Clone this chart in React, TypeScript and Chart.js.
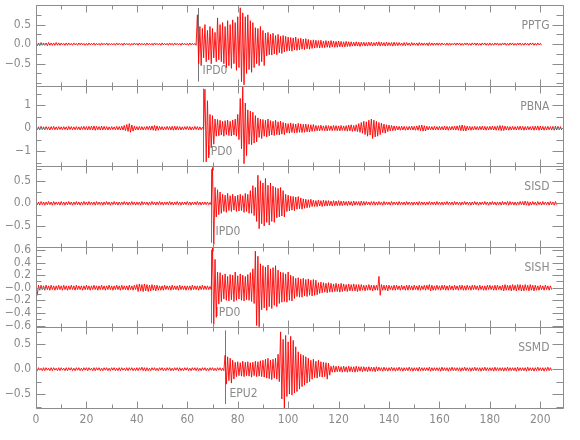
import { useEffect, useRef } from 'react';
import { Chart, registerables } from 'chart.js';

Chart.register(...registerables);

// ---------- data ----------
const STATIONS = ['PPTG', 'PBNA', 'SISD', 'SISH', 'SSMD'];
const PICK_LABELS = ['IPD0', 'IPD0', 'IPD0', 'IPD0', 'EPU2'];
const PICK_TIMES = [64.2, 66.3, 69.6, 69.6, 74.8];

const Y_MIN = [-1.06, -1.66, -0.96, -0.63, -0.78];
const Y_MAX = [1.0, 1.86, 0.82, 0.65, 0.84];
const Y_TICKS = [
  [-0.5, 0, 0.5],
  [-1, 0, 1],
  [-0.5, 0, 0.5],
  [-0.6, -0.4, -0.2, 0, 0.2, 0.4, 0.6],
  [-0.5, 0, 0.5],
];
const Y_TICK_LABELS = [
  ['\u22120.5', '0.0', '0.5'],
  ['\u22121', '0', '1'],
  ['\u22120.5', '0.0', '0.5'],
  ['\u22120.6', '\u22120.4', '\u22120.2', '\u22120.0', '0.2', '0.4', '0.6'],
  ['\u22120.5', '0.0', '0.5'],
];
const Y_MINOR_STEP = [0.25, 0.5, 0.25, 0.1, 0.25];
const X_MIN = 0;
const X_MAX = 209;
const X_TICKS = [0, 20, 40, 60, 80, 100, 120, 140, 160, 180, 200];
const X_MINOR_STEP = 10;

// Waveform envelopes read per second (hundredths of the panel unit):
// *_UP = upward excursion at t = i s, *_DN = downward excursion at t = i + 0.5 s
const SAMPLE_STEP = 1;

const PPTG_UP = [
  4,3,4,3,3,4,3,3,4,3, 3,2,3,3,2,3,2,3,3,2, 2,3,2,3,2,2,3,2,3,2, 2,2,3,2,2,3,2,2,2,3,
  2,3,2,2,3,2,2,3,2,2, 3,2,2,3,2,3,2,2,3,2, 2,3,2,2,75,45,40,50,35,45,
  40,30,67,50,55,45,60,50,62,55, 70,93,80,70,75,60,55,42,40,45, 35,28,30,25,28,22,25,20,22,20,
  18,17,16,18,14,15,13,14,12,10, 11,10,9,10,8,9,8,9,8,7, 8,7,6,7,6,6,5,6,5,5,
  5,4,5,5,4,5,6,5,4,5, 4,4,5,4,4,3,4,4,3,4, 3,3,4,3,3,3,4,3,3,3,
  3,3,2,3,3,2,3,3,3,2, 3,3,2,3,3,3,2,3,3,2, 3,2,3,3,2,3,3,2,3,3, 2,3,3,2,3,2,3,3,2,3, 2,
];
const PPTG_DN = [
  4,4,3,3,4,3,3,3,3,3, 2,3,3,2,3,2,3,2,2,3, 3,2,2,3,2,3,2,2,3,2, 2,3,2,2,3,2,2,3,2,2,
  3,2,2,3,2,2,3,2,2,3, 2,2,3,2,3,2,2,3,2,2, 3,2,2,3,50,55,35,45,40,50,
  35,45,40,45,50,60,55,62,50,67, 60,96,104,75,65,72,60,50,55,45, 55,30,27,28,25,27,22,24,20,18,
  17,18,15,16,15,13,14,12,13,11, 10,9,10,9,9,8,9,7,8,8, 7,7,7,6,6,5,5,5,6,4,
  5,5,4,5,4,4,5,4,5,4, 4,5,4,4,3,4,4,3,4,3, 3,4,3,3,3,4,3,3,3,3,
  3,2,3,3,3,2,3,2,3,3, 2,3,3,2,3,3,3,2,3,3, 3,3,2,3,3,2,3,3,2,3, 3,2,3,3,2,3,2,3,3,2, 3,
];

const PBNA_UP = [
  7,6,8,6,7,6,7,8,6,7, 6,7,6,8,7,6,7,6,7,8, 7,8,9,10,8,7,9,8,7,6, 7,6,8,7,9,12,16,20,14,9,
  7,8,7,6,8,9,10,12,10,8, 7,6,8,7,8,9,8,7,6,7, 8,7,6,8,7,6,4,170,120,60,
  55,40,38,35,30,33,35,30,36,40, 60,130,184,110,80,75,70,55,45,40, 38,35,40,33,30,35,28,30,25,22,
  20,23,20,18,21,19,17,18,16,15, 16,12,11,13,10,12,11,10,12,11, 10,12,10,11,14,15,12,15,20,25,
  30,28,35,40,35,30,25,22,18,15, 14,12,10,9,8,9,8,7,8,9, 8,10,12,14,11,9,8,7,8,7,
  8,7,9,8,7,8,9,10,12,14, 11,9,8,7,8,7,8,9,8,7, 8,9,8,10,12,11,9,8,7,8, 7,8,9,8,7,8,7,8,9,10,
  9,8,7,8,7,8,9,8,7,
];
const PBNA_DN = [
  6,7,6,7,6,8,6,7,7,6, 7,6,8,6,7,7,6,8,6,7, 8,7,8,9,7,8,8,7,8,7, 6,7,7,8,8,11,14,18,13,8,
  8,7,8,7,7,8,9,11,9,7, 8,7,7,8,9,8,7,8,7,6, 7,8,7,6,8,7,5,147,130,85,
  70,35,33,30,35,28,32,34,30,35, 50,90,155,120,70,72,65,60,40,45, 35,38,33,30,32,28,30,26,28,20,
  22,19,21,20,18,19,18,16,17,14, 13,11,12,10,11,12,10,11,10,11, 12,10,11,13,12,14,13,15,18,22,
  28,35,30,45,38,35,28,20,22,15, 12,11,10,8,9,8,9,8,7,8, 9,9,11,13,12,8,7,8,7,8,
  7,8,8,9,8,7,8,9,11,12, 12,8,9,8,7,8,7,8,9,8, 7,8,9,9,11,10,8,9,8,7, 8,7,8,9,8,7,8,9,8,9,
  8,9,8,7,8,9,8,7,8,
];

const SISD_UP = [
  4,3,4,3,3,4,3,4,3,3, 4,3,3,4,3,3,4,3,3,4, 3,4,3,3,4,3,3,3,4,3, 3,4,3,3,3,4,3,3,4,3,
  3,3,4,3,3,3,4,3,3,4, 3,3,3,4,3,3,4,3,3,3, 4,3,3,3,4,3,3,3,3,2,
  79,35,30,25,20,18,22,17,20,16, 18,20,17,22,20,28,39,35,62,50, 45,55,40,45,38,35,33,35,28,20,
  18,16,15,14,15,12,10,9,8,9, 7,6,7,6,7,6,6,5,6,5, 6,5,5,4,5,4,5,4,4,5,
  4,4,3,4,4,3,4,3,4,3, 3,4,3,3,4,3,3,4,3,3, 3,3,4,3,3,3,4,3,3,4,
  3,3,3,4,3,3,4,3,3,3, 4,3,3,3,4,3,3,3,4,3, 3,4,3,3,3,4,3,4,4,3, 3,3,4,4,5,4,3,4,3,4,
  3,4,3,3,4,3,4,
];
const SISD_DN = [
  3,4,3,4,3,3,4,3,3,4, 3,4,3,3,4,3,3,4,3,3, 4,3,3,4,3,3,4,3,3,4, 3,3,4,3,3,3,4,3,3,4,
  3,4,3,3,4,3,3,4,3,3, 4,3,3,3,4,3,3,4,3,3, 3,4,3,3,3,4,3,3,3,3,
  91,30,25,22,18,20,16,18,15,18, 17,16,20,18,22,22,27,40,56,45, 50,42,48,40,42,32,30,28,30,18,
  17,15,16,13,12,13,11,10,9,7, 7,7,6,7,6,6,5,6,5,5, 5,5,4,5,4,5,4,4,5,4,
  4,3,4,3,4,4,3,4,3,3, 4,3,3,4,3,3,4,3,3,4, 3,4,3,3,4,3,3,3,4,3,
  3,4,3,3,3,4,3,3,4,3, 3,3,4,3,3,4,3,3,3,4, 3,3,4,3,4,3,3,4,3,4, 4,3,3,4,4,5,4,3,4,3,
  4,3,3,4,3,4,3,
];

const SISH_UP = [
  5,4,4,3,4,3,4,3,3,4, 3,4,3,3,4,3,4,3,3,3, 4,3,3,4,3,3,4,3,3,4, 3,3,4,3,4,3,3,4,3,4,
  5,6,5,6,5,4,5,4,4,3, 3,4,3,3,4,3,3,4,3,3, 3,3,4,3,3,3,4,3,3,2,
  65,45,25,24,20,22,18,21,20,25, 19,22,20,18,21,24,30,58,50,38, 35,33,36,30,32,35,28,25,24,22,
  25,20,18,15,16,14,15,13,14,12, 13,12,8,9,8,7,8,7,6,7, 6,7,6,5,6,5,6,5,5,5,
  4,4,5,4,4,4,18,5,4,4, 4,3,4,4,3,4,3,4,4,3, 4,3,4,3,4,4,5,4,3,4,
  3,4,4,3,4,3,4,3,4,4, 3,4,3,4,4,3,4,3,3,4, 4,3,4,4,3,4,5,4,4,5, 4,5,5,4,5,4,5,4,4,3,
  4,3,4,3,3,
];
const SISH_DN = [
  12,4,3,4,3,4,3,4,3,3, 4,3,4,3,3,4,3,3,4,3, 3,4,3,3,4,3,3,4,3,3, 4,3,3,4,3,3,4,3,4,3,
  6,5,6,5,6,5,4,5,4,4, 4,3,3,4,3,3,4,3,3,4, 3,4,3,3,4,3,3,3,3,3,
  58,47,26,22,18,20,21,19,22,20, 18,20,21,19,20,22,25,60,62,35, 32,36,30,33,28,30,25,23,22,23,
  20,21,17,14,15,15,13,14,12,13, 12,11,9,8,7,8,7,7,6,6, 7,6,5,6,5,5,5,6,5,4,
  5,4,4,5,4,4,12,4,4,5, 3,4,4,3,4,3,4,4,3,4, 3,4,4,3,4,3,5,4,4,3,
  4,3,4,4,3,4,3,4,3,4, 4,3,4,3,3,4,3,4,4,3, 3,4,4,3,4,5,4,4,5,4, 5,4,5,5,4,5,4,5,4,4,
  3,4,3,4,3,
];

const SSMD_UP = [
  3,3,2,3,3,2,3,3,2,3, 3,2,3,3,3,2,3,3,2,3, 3,3,2,3,3,3,2,3,3,2, 3,3,2,3,3,2,3,3,3,2,
  3,3,4,3,3,2,3,3,2,3, 3,2,3,3,2,3,3,3,2,3, 3,2,3,3,3,2,3,3,2,3,
  3,2,3,3,2,28,25,22,18,14, 15,13,16,14,15,13,14,16,15,17, 18,20,22,18,20,22,30,75,60,68,
  55,66,58,45,35,30,28,25,22,18, 20,16,18,15,14,13,12,6,7,6, 6,5,6,5,6,5,5,6,5,5,
  5,4,5,4,4,5,4,3,4,3, 3,4,3,3,4,3,3,3,4,3, 3,3,4,3,3,3,4,3,3,3,
  3,4,3,3,3,4,3,3,3,3, 4,3,3,3,4,3,3,3,4,3, 3,3,4,3,3,3,3,4,3,3, 3,4,3,3,3,4,3,3,3,4,
  3,3,3,4,3,
];
const SSMD_DN = [
  3,2,3,3,2,3,3,2,3,3, 2,3,3,2,3,3,2,3,3,2, 3,2,3,3,2,3,3,2,3,3, 2,3,3,3,2,3,3,2,3,3,
  3,2,3,4,3,3,2,3,3,2, 3,3,2,3,3,2,3,3,3,2, 3,3,2,3,3,3,2,3,3,2,
  3,3,2,3,3,30,23,28,20,15, 13,14,15,13,14,16,13,15,14,15, 16,18,19,21,18,20,25,60,78,55,
  50,52,48,45,40,35,32,28,25,20, 17,18,15,16,15,20,12,6,6,5, 5,6,5,6,5,5,6,5,4,5,
  4,5,4,4,5,4,3,4,3,4, 3,3,4,3,3,4,3,3,3,4, 3,4,3,3,3,3,4,3,3,3,
  4,3,3,4,3,3,3,3,4,3, 3,3,4,3,3,3,4,3,3,3, 3,4,3,3,3,4,3,3,3,3, 4,3,3,3,4,3,3,4,3,3,
  3,4,3,3,3,
];

const TRACE_UP = [PPTG_UP, PBNA_UP, SISD_UP, SISH_UP, SSMD_UP];
const TRACE_DN = [PPTG_DN, PBNA_DN, SISD_DN, SISH_DN, SSMD_DN];

// ---------- style ----------
const FONT_FAMILY = '"Liberation Sans Narrow", "DejaVu Sans Condensed", "Liberation Sans", sans-serif';
const TEXT_COLOR = '#8a8a8a';
const FRAME_COLOR = '#8c8c8c';
const TRACE_COLOR = 'rgb(255,0,0)';

function buildPoints(up: number[], dn: number[]) {
  const pts: { x: number; y: number }[] = [];
  for (let i = 0; i < up.length; i++) {
    const t = i * SAMPLE_STEP;
    pts.push({ x: t, y: up[i] / 100 });
    pts.push({ x: t + SAMPLE_STEP / 2, y: -dn[i] / 100 });
  }
  return pts;
}

const decorPlugin = {
  id: 'seisDecor',
  beforeDatasetsDraw(chart: any) {
    const ctx = chart.ctx;
    const xs = chart.scales.x;
    ctx.save();
    STATIONS.forEach((_, k) => {
      const ys = chart.scales['y' + k];
      const px = Math.round(xs.getPixelForValue(PICK_TIMES[k])) + 0.5;
      ctx.strokeStyle = '#777777';
      ctx.lineWidth = 1;
      ctx.beginPath();
      ctx.moveTo(px, ys.top + 3);
      ctx.lineTo(px, ys.bottom - 4);
      ctx.stroke();
      ctx.fillStyle = TEXT_COLOR;
      ctx.font = '12px ' + FONT_FAMILY;
      ctx.textAlign = 'left';
      ctx.textBaseline = 'middle';
      ctx.fillText(PICK_LABELS[k], px + 4, ys.bottom - 14.5);
    });
    ctx.restore();
  },
  afterDatasetsDraw(chart: any) {
    const ctx = chart.ctx;
    const area = chart.chartArea;
    const xs = chart.scales.x;
    ctx.save();
    ctx.strokeStyle = FRAME_COLOR;
    ctx.lineWidth = 1;
    STATIONS.forEach((name, k) => {
      const ys = chart.scales['y' + k];
      const top = Math.round(ys.top) + 0.5;
      const bot = Math.round(ys.bottom) + 0.5;
      const left = Math.round(area.left) + 0.5;
      const right = Math.round(area.right) + 0.5;
      ctx.beginPath();
      ctx.rect(left, top, right - left, bot - top);
      ctx.stroke();
      // x ticks (top & bottom of each panel)
      ctx.beginPath();
      for (let v = X_MIN; v <= X_MAX; v += X_MINOR_STEP) {
        const px = Math.round(xs.getPixelForValue(v)) + 0.5;
        const len = v % 20 === 0 ? 7 : 4;
        ctx.moveTo(px, top);
        ctx.lineTo(px, top + len);
        ctx.moveTo(px, bot);
        ctx.lineTo(px, bot - len);
      }
      // y ticks (left & right)
      const step = Y_MINOR_STEP[k];
      const start = Math.ceil(Y_MIN[k] / step - 1e-6) * step;
      for (let v = start; v <= Y_MAX[k] + 1e-9; v += step) {
        const py = Math.round(ys.getPixelForValue(v)) + 0.5;
        const major = Y_TICKS[k].some((m) => Math.abs(m - v) < 1e-6);
        const len = major ? 9 : 5;
        ctx.moveTo(left, py);
        ctx.lineTo(left + len, py);
        ctx.moveTo(right, py);
        ctx.lineTo(right - len - 2, py);
      }
      ctx.stroke();
      // station name
      ctx.fillStyle = TEXT_COLOR;
      ctx.font = '12px ' + FONT_FAMILY;
      ctx.textAlign = 'right';
      ctx.textBaseline = 'middle';
      ctx.fillText(name, right - 14, top + 20);
    });
    ctx.restore();
  },
};

export default function App() {
  const canvasRef = useRef<HTMLCanvasElement | null>(null);

  useEffect(() => {
    const canvas = canvasRef.current;
    if (!canvas) return;

    const datasets = STATIONS.map((name, k) => ({
      label: name,
      data: buildPoints(TRACE_UP[k], TRACE_DN[k]),
      yAxisID: 'y' + k,
      borderColor: TRACE_COLOR,
      borderWidth: 0.9,
      pointRadius: 0,
      tension: 0,
      fill: false,
    }));

    const scales: any = {
      x: {
        type: 'linear',
        min: X_MIN,
        max: X_MAX,
        grid: { display: false, drawTicks: false },
        border: { display: false },
        afterBuildTicks: (s: any) => {
          s.ticks = X_TICKS.map((v) => ({ value: v }));
        },
        afterFit: (s: any) => {
          s.height = 32;
          s.paddingLeft = 0;
          s.paddingRight = 0;
        },
        ticks: {
          autoSkip: false,
          maxRotation: 0,
          color: TEXT_COLOR,
          padding: 5,
          font: { family: FONT_FAMILY, size: 12 },
          callback: (v: any) => String(v),
        },
      },
    };
    // stacked panels: define bottom panel first so PPTG ends on top
    for (let k = STATIONS.length - 1; k >= 0; k--) {
      scales['y' + k] = {
        type: 'linear',
        position: 'left',
        stack: 'seis',
        stackWeight: 1,
        min: Y_MIN[k],
        max: Y_MAX[k],
        offset: false,
        grid: { display: false, drawTicks: false },
        border: { display: false },
        afterBuildTicks: (s: any) => {
          s.ticks = Y_TICKS[k].map((v) => ({ value: v }));
        },
        afterFit: (s: any) => {
          s.width = 36;
          s.paddingTop = 0;
          s.paddingBottom = 0;
        },
        ticks: {
          autoSkip: false,
          color: TEXT_COLOR,
          padding: 5,
          font: { family: FONT_FAMILY, size: 12 },
          callback: (_v: any, i: number) => Y_TICK_LABELS[k][i],
        },
      };
    }

    const chart = new Chart(canvas, {
      type: 'line',
      data: { datasets },
      options: {
        responsive: false,
        animation: false,
        devicePixelRatio: 1,
        layout: { padding: { left: 0, right: 17, top: 5, bottom: 0 } },
        plugins: {
          legend: { display: false },
          tooltip: { enabled: false },
        },
        scales,
      },
      plugins: [decorPlugin],
    } as any);

    return () => chart.destroy();
  }, []);

  return (
    <div style={{ position: 'fixed', left: 0, top: 0, width: 580, height: 440, background: '#ffffff' }}>
      <canvas ref={canvasRef} width={580} height={440} />
    </div>
  );
}
